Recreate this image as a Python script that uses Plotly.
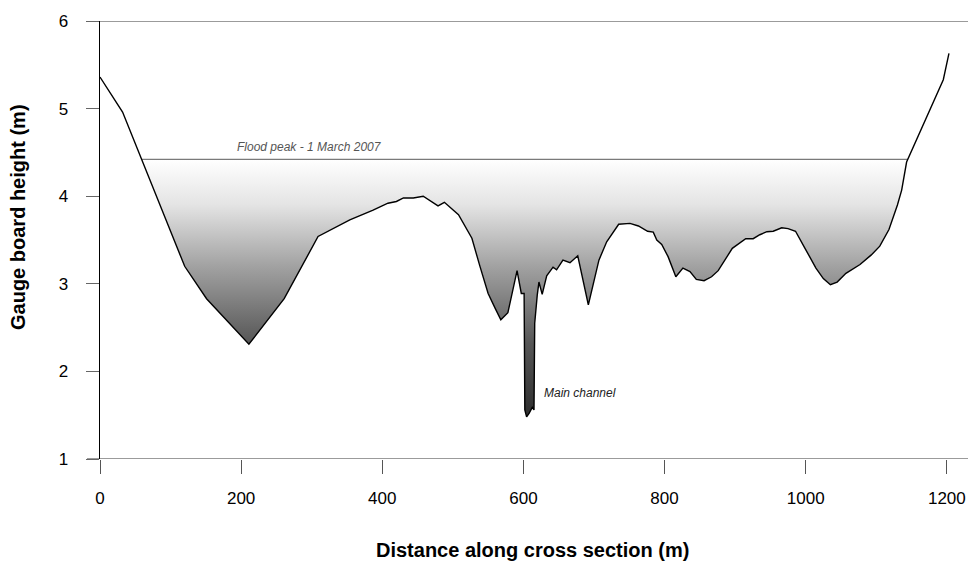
import plotly.graph_objects as go

# Cross-section profile (distance along section in m, gauge board height in m)
distance = [0, 32, 120, 151, 211, 261, 309, 354, 387, 408, 420, 430, 444, 458,
            479, 488, 508, 527, 538, 550, 560, 568, 578, 591, 597, 601, 602,
            604.5, 608, 612.5, 615, 616, 619.6, 622, 626.6, 633, 642, 647, 656,
            666, 677, 692, 707, 718, 735, 751, 763, 776, 784, 789, 796, 805,
            816, 826, 836, 845, 856, 866.6, 876, 896, 915, 925.6, 935, 945,
            954, 966, 975, 985.6, 999, 1014.5, 1025, 1035, 1044.6, 1057, 1077,
            1093, 1105, 1118, 1130, 1136, 1143, 1170, 1195, 1203]
height = [5.36, 4.96, 3.20, 2.83, 2.31, 2.83, 3.54, 3.73, 3.84, 3.92, 3.94,
          3.98, 3.98, 4.00, 3.89, 3.93, 3.79, 3.52, 3.21, 2.89, 2.72, 2.59,
          2.67, 3.15, 2.89, 2.89, 1.56, 1.48, 1.52, 1.59, 1.56, 2.55, 2.87,
          3.02, 2.88, 3.09, 3.19, 3.16, 3.27, 3.24, 3.32, 2.76, 3.27, 3.48,
          3.68, 3.69, 3.66, 3.60, 3.59, 3.50, 3.45, 3.31, 3.08, 3.18, 3.14,
          3.05, 3.035, 3.08, 3.15, 3.405, 3.515, 3.515, 3.56, 3.595, 3.60,
          3.64, 3.63, 3.60, 3.405, 3.18, 3.06, 2.99, 3.02, 3.12, 3.22, 3.33,
          3.43, 3.62, 3.90, 4.07, 4.39, 4.87, 5.33, 5.63]
flood_level = 4.42
flood_label = "Flood peak - 1 March 2007"
channel_label = "Main channel"
x_ticks = [0, 200, 400, 600, 800, 1000, 1200]
y_ticks = [1, 2, 3, 4, 5, 6]

FONT = "Arial, Liberation Sans, Helvetica, sans-serif"
NBSP = "\u00a0"


def crossing(i):
    x0, x1 = distance[i], distance[i + 1]
    y0, y1 = height[i], height[i + 1]
    t = (flood_level - y0) / (y1 - y0)
    return x0 + t * (x1 - x0)


# find where profile crosses flood level (first and last crossing)
cross = [i for i in range(len(height) - 1)
         if (height[i] - flood_level) * (height[i + 1] - flood_level) < 0]
i_left, i_right = cross[0], cross[-1]
x_left, x_right = crossing(i_left), crossing(i_right)

poly_x = [x_left] + distance[i_left + 1:i_right + 1] + [x_right]
poly_y = [flood_level] + height[i_left + 1:i_right + 1] + [flood_level]

fig = go.Figure()
fig.add_trace(go.Scatter(
    x=poly_x, y=poly_y, mode="lines", fill="toself",
    line=dict(width=0, color="rgba(0,0,0,0)"),
    fillgradient=dict(type="vertical", start=min(height), stop=flood_level,
                      colorscale=[[0, "#2e2e2e"], [0.285, "#565656"],
                                  [0.586, "#a2a2a2"], [0.824, "#e4e4e4"],
                                  [1, "#ffffff"]]),
    hoverinfo="skip", showlegend=False))
fig.add_trace(go.Scatter(
    x=[x_left, x_right], y=[flood_level, flood_level], mode="lines",
    line=dict(color="#7a7a7a", width=1.4), showlegend=False))
fig.add_trace(go.Scatter(
    x=distance, y=height, mode="lines",
    line=dict(color="black", width=1.4), showlegend=False))

fig.add_annotation(x=297, y=4.556, text=flood_label, showarrow=False,
                   font=dict(family=FONT, size=12, color="#555555", style="italic"),
                   xanchor="center", yanchor="middle")
fig.add_annotation(x=627, y=1.757, text=channel_label, showarrow=False,
                   font=dict(family=FONT, size=12, color="#222222", style="italic"),
                   xanchor="left", yanchor="middle")

# axis titles
fig.add_annotation(xref="paper", yref="paper", x=(532 - 100) / 868, y=(459 - 550) / 438,
                   text="<b>Distance along cross section (m)</b>", showarrow=False,
                   font=dict(family=FONT, size=20, color="black"),
                   xanchor="center", yanchor="middle")
fig.add_annotation(xref="paper", yref="paper", x=(18 - 100) / 868, y=(459 - 217) / 438,
                   text="<b>Gauge board height (m)</b>", showarrow=False, textangle=-90,
                   font=dict(family=FONT, size=20, color="black"),
                   xanchor="center", yanchor="middle")

# horizontal gray lines at y=1 and y=6 spanning the width
for yy in (1, 6):
    fig.add_shape(type="line", xref="paper", yref="y",
                  x0=-13 / 868, x1=1.0, y0=yy, y1=yy,
                  line=dict(color="#7a7a7a", width=1.4), layer="below")

fig.update_layout(
    width=971, height=561,
    margin=dict(l=100, r=3, t=21, b=102),
    paper_bgcolor="white", plot_bgcolor="white",
    font=dict(family=FONT, color="black"),
    showlegend=False,
    xaxis=dict(range=[0, 1230], tickvals=x_ticks, ticktext=[str(v) for v in x_ticks],
               showgrid=False, zeroline=False, showline=False,
               ticks="outside", ticklen=14, tickcolor="#555555", tickwidth=1,
               tickfont=dict(family=FONT, size=17, color="black"),
               ticklabelstandoff=10),
    yaxis=dict(range=[1, 6], tickvals=y_ticks,
               ticktext=[str(v) + NBSP * 3 for v in y_ticks],
               showgrid=False, zeroline=False, showline=True,
               linecolor="black", linewidth=1.4,
               ticks="outside", ticklen=13, tickcolor="#666666", tickwidth=1,
               tickfont=dict(family=FONT, size=17, color="black")),
)

fig.write_html("out.html")
